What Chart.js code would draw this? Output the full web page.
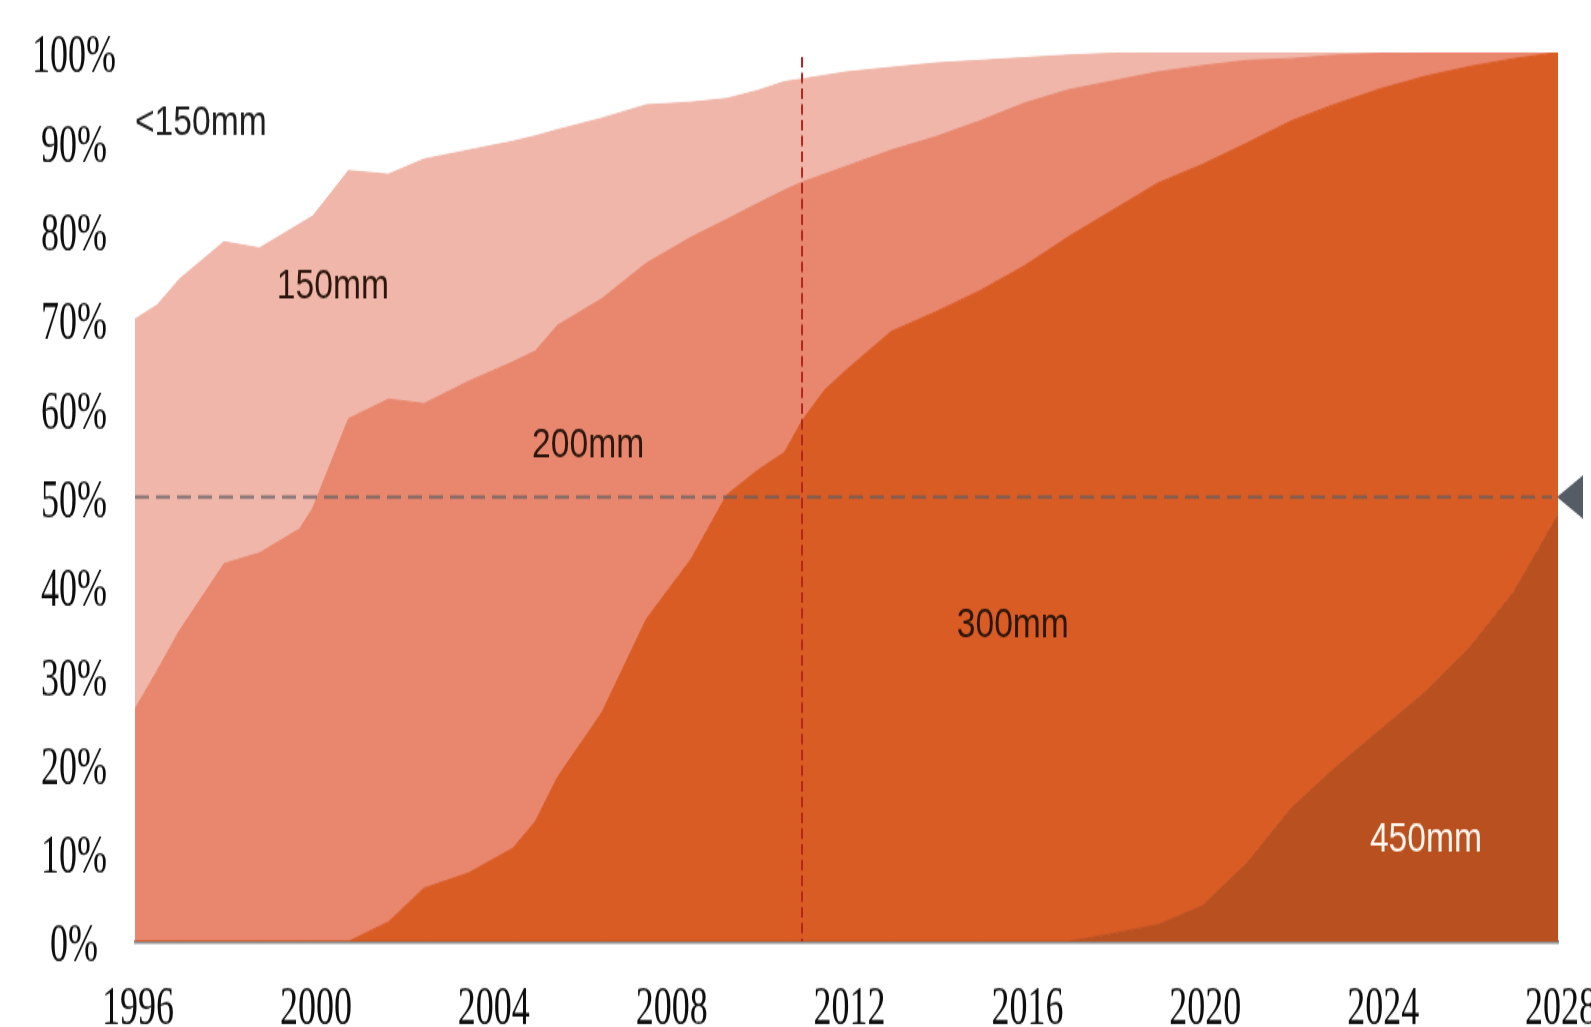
<!DOCTYPE html>
<html>
<head>
<meta charset="utf-8">
<title>Wafer size share 1996-2028</title>
<script src="https://cdn.jsdelivr.net/npm/chart.js@4.4.1/dist/chart.umd.min.js"></script>
<style>
  html, body { margin: 0; padding: 0; background: #ffffff; overflow: hidden; }
  canvas { display: block; }
</style>
</head>
<body>
<!-- drawing surface is rendered at 1591x685 and shown stretched to 1027px tall -->
<canvas id="chart" width="1591" height="685" style="width:1591px;height:1027px"></canvas>
<script>
// Years sampled along the time axis
const years = [1996, 1996.5, 1997, 1998, 1998.8, 1999.7, 2000, 2000.8, 2001.7, 2002.5,
  2003.5, 2004.5, 2005, 2005.5, 2006.5, 2007.5, 2008.5, 2009.3, 2010, 2010.6,
  2011, 2011.5, 2012, 2013, 2014, 2015, 2016, 2017, 2018, 2019,
  2020, 2021, 2022, 2023, 2024, 2025, 2026, 2027, 2028];

// Share of wafer capacity by diameter (%)
const share450 = [0, 0, 0, 0, 0, 0, 0, 0, 0, 0,
  0, 0, 0, 0, 0, 0, 0, 0, 0, 0,
  0, 0, 0, 0, 0, 0, 0, 0, 0.9, 1.9,
  4.0, 8.8, 15, 19.6, 23.8, 28, 33, 39.3, 48];
const share300 = [0, 0, 0, 0, 0, 0, 0, 0, 2.2, 6,
  7.7, 10.5, 13.5, 18.5, 25.8, 36.3, 43, 50.2, 53, 55,
  58.6, 62, 64.3, 68.6, 70.8, 73.2, 76, 79.3, 81.4, 83.4,
  83.4, 81, 77.3, 74.6, 72.1, 69.3, 65.4, 60, 52];
const share200 = [26.2, 30.5, 35, 42.5, 43.7, 46.4, 48.8, 58.8, 58.8, 54.5,
  55.3, 54.7, 52.9, 50.8, 46.5, 40, 36.2, 31, 30, 29.5,
  26.8, 24.3, 22.9, 20.4, 19.7, 19.1, 18.3, 16.5, 14.5, 12.5,
  11.1, 9.3, 7, 5.5, 4, 2.7, 1.6, 0.7, 0];
const share150 = [43.8, 41.1, 39.5, 36.2, 34.3, 34.3, 32.8, 27.9, 25.3, 27.5,
  26, 24.8, 24.2, 22, 20.3, 17.8, 15.2, 13.6, 12.7, 12.2,
  11.6, 11.1, 10.6, 9.3, 8.3, 6.8, 5.1, 3.9, 3.1, 2.2,
  1.5, 0.9, 0.7, 0.3, 0.1, 0, 0, 0, 0];
const shareBelow150 = [30, 28.4, 25.5, 21.3, 22, 19.3, 18.4, 13.3, 13.7, 12,
  11, 10, 9.4, 8.7, 7.4, 5.9, 5.6, 5.2, 4.3, 3.3,
  3, 2.6, 2.2, 1.7, 1.2, 0.9, 0.6, 0.3, 0.1, 0,
  0, 0, 0, 0, 0, 0, 0, 0, 0];

// Axis tick values
const yearTicks = [1996, 2000, 2004, 2008, 2012, 2016, 2020, 2024, 2028];
const percentTicks = [0, 10, 20, 30, 40, 50, 60, 70, 80, 90, 100];

// Reference marks
const halfShare = 50;
const currentYear = 2011;

// Series names and where their names are printed (year, %)
const seriesNames = ['450mm', '300mm', '200mm', '150mm', '<150mm'];
const seriesColors = ['#b9501f', '#da5c25', '#e9876e', '#f0b6a9', '#ffffff'];
const nameSpots = [
  { text: '450mm', x: 2025.03, y: 11.5, color: '#fff6ef', align: 'center' },
  { text: '300mm', x: 2015.74, y: 35.5, color: '#2a160c', align: 'center' },
  { text: '200mm', x: 2006.19, y: 55.7, color: '#2a160c', align: 'center' },
  { text: '150mm', x: 2000.45, y: 73.7, color: '#2a160c', align: 'center' },
  { text: '<150mm', x: 1996.0, y: 92.1, color: '#1e1e1e', align: 'left' }
];

const seriesValues = [share450, share300, share200, share150, shareBelow150];

const datasets = seriesValues.map((vals, i) => ({
  label: seriesNames[i],
  data: years.map((yr, j) => ({ x: yr, y: vals[j] })),
  backgroundColor: seriesColors[i],
  borderColor: seriesColors[i],
  borderWidth: 1,
  pointRadius: 0,
  pointHoverRadius: 0,
  tension: 0,
  fill: i === 0 ? 'origin' : '-1'
}));

const overlayPlugin = {
  id: 'overlay',
  beforeDraw(chart) {
    const ctx = chart.ctx;
    ctx.save();
    ctx.fillStyle = '#ffffff';
    ctx.fillRect(0, 0, chart.width, chart.height);
    ctx.restore();
  },
  afterDatasetsDraw(chart) {
    const { ctx, chartArea, scales } = chart;
    const xs = scales.x, ys = scales.y;
    ctx.save();

    // 50% guide line
    const yHalf = ys.getPixelForValue(halfShare);
    ctx.strokeStyle = 'rgba(92, 92, 98, 0.78)';
    ctx.lineWidth = 2;
    ctx.setLineDash([14, 7]);
    ctx.beginPath();
    ctx.moveTo(chartArea.left, yHalf);
    ctx.lineTo(chartArea.right - 6, yHalf);
    ctx.stroke();

    // pointer at the right end of the guide
    ctx.setLineDash([]);
    ctx.fillStyle = '#555c66';
    ctx.beginPath();
    ctx.moveTo(chartArea.right - 1, yHalf);
    ctx.lineTo(chartArea.right + 25, yHalf - 14.5);
    ctx.lineTo(chartArea.right + 25, yHalf + 14.5);
    ctx.closePath();
    ctx.fill();

    // current-year marker
    const xNow = xs.getPixelForValue(currentYear);
    ctx.strokeStyle = '#b3261e';
    ctx.lineWidth = 2;
    ctx.setLineDash([7, 3.5]);
    ctx.beginPath();
    ctx.moveTo(xNow, chartArea.top + 3);
    ctx.lineTo(xNow, chartArea.bottom);
    ctx.stroke();
    ctx.setLineDash([]);

    // series names, set in a slightly widened sans face
    const widen = 1.2;
    ctx.font = '28px "Liberation Sans", Arial, sans-serif';
    ctx.textBaseline = 'middle';
    nameSpots.forEach(s => {
      const px = xs.getPixelForValue(s.x);
      const py = ys.getPixelForValue(s.y);
      ctx.save();
      ctx.translate(px, py);
      ctx.scale(widen, 1);
      ctx.fillStyle = s.color;
      ctx.textAlign = s.align;
      ctx.fillText(s.text, 0, 0);
      ctx.restore();
    });
    ctx.restore();
  }
};

new Chart(document.getElementById('chart'), {
  type: 'line',
  data: { datasets },
  plugins: [overlayPlugin],
  options: {
    responsive: false,
    animation: false,
    events: [],
    layout: { padding: { top: 35, right: 33, bottom: 0, left: 0 } },
    plugins: {
      legend: { display: false },
      tooltip: { enabled: false },
      title: { display: false }
    },
    scales: {
      x: {
        type: 'linear',
        min: 1996,
        max: 2028,
        z: 1,
        afterBuildTicks: (scale) => { scale.ticks = yearTicks.map(v => ({ value: v })); },
        afterFit: (scale) => { scale.height = 57; scale.paddingLeft = 0; scale.paddingRight = 0; },
        grid: { display: false, drawTicks: false },
        border: { display: true, color: '#8e8e8e', width: 2.5 },
        ticks: {
          padding: 28,
          labelOffset: 3,
          maxRotation: 0,
          autoSkip: false,
          color: '#0d0d0d',
          font: { family: '"Liberation Serif", "Times New Roman", serif', size: 36, lineHeight: 1 },
          callback: (v) => String(v)
        }
      },
      y: {
        stacked: true,
        min: 0,
        max: 100,
        z: 1,
        afterBuildTicks: (scale) => { scale.ticks = percentTicks.map(v => ({ value: v })); },
        afterFit: (scale) => { scale.width = 135; scale.paddingTop = 0; scale.paddingBottom = 0; },
        grid: { display: false, drawTicks: false },
        border: { display: true, color: '#a0a0a0', width: 1 },
        ticks: {
          padding: 19,
          crossAlign: 'center',
          labelOffset: 4,
          color: '#0d0d0d',
          font: { family: '"Liberation Serif", "Times New Roman", serif', size: 36, lineHeight: 1 },
          callback: (v) => v + '%'
        }
      }
    }
  }
});
</script>
</body>
</html>
